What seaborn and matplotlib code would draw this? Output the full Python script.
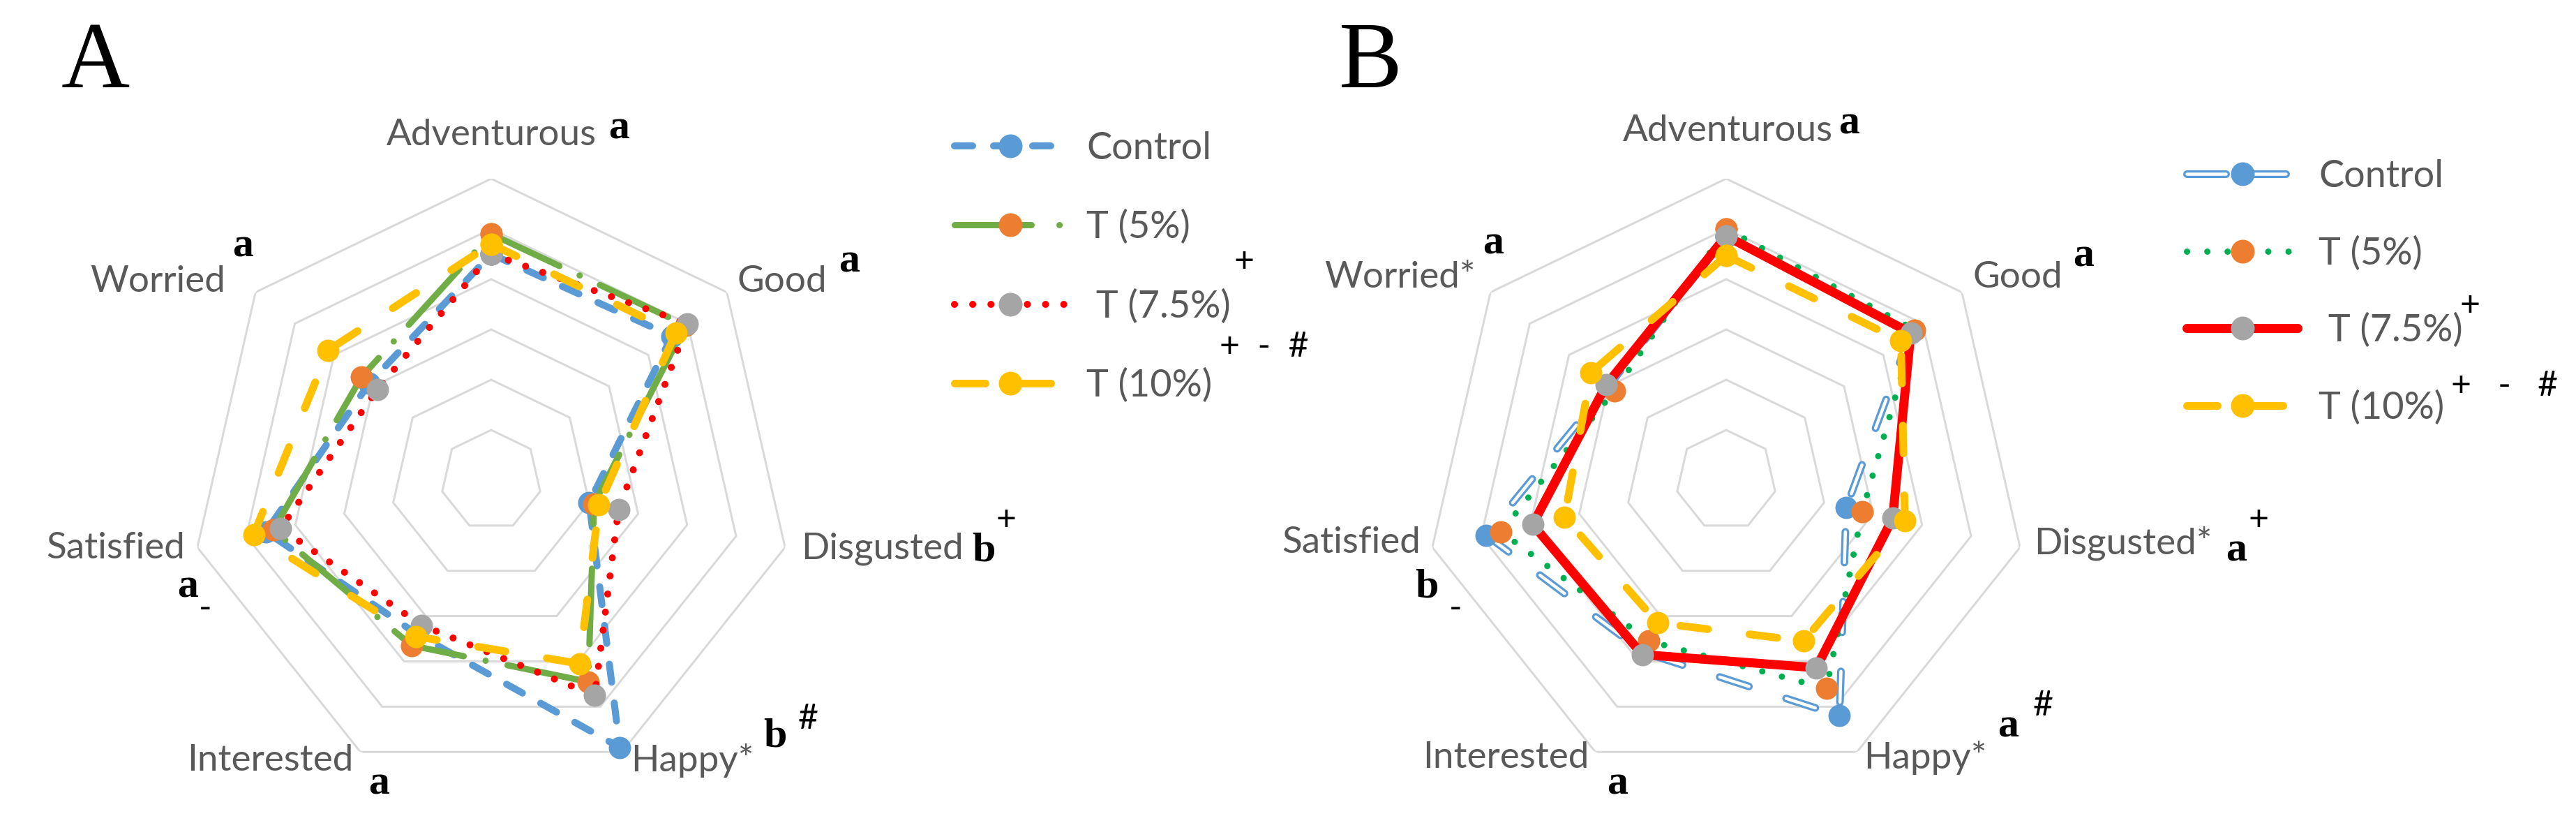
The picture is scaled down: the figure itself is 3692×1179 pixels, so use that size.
import numpy as np
import pandas as pd
import matplotlib.pyplot as plt
import seaborn as sns
from matplotlib.lines import Line2D
from matplotlib.legend_handler import HandlerTuple

# ----------------------
# Data (share of consumers)
# ----------------------
categories = ["Adventurous", "Good", "Disgusted", "Happy", "Interested", "Satisfied", "Worried"]
series_names = ["Control", "T (5%)", " T (7.5%)", "T (10%)"]

# Panel A
control_a = [45, 46, 20, 59, 34, 46, 31]
t5_a = [49, 49.5, 21, 44.5, 36.5, 44.5, 33]
t75_a = [45, 50, 26, 47.5, 32, 43, 29]
t10_a = [47, 47, 22, 40.5, 34.5, 48.5, 41.5]

# Panel B
control_b = [48.5, 47, 24.5, 52, 38, 49, 30]
t5_b = [50, 48, 27.8, 46, 35.5, 46, 28.5]
t75_b = [48.6, 47, 34, 41.4, 38.5, 39.5, 30.5]
t10_b = [44.7, 44.5, 36.5, 35.5, 31.5, 33, 34.4]

RMAX = 60
grid_levels = [10, 20, 30, 40, 50, 60]

# ----------------------
# Figure setup (dpi 72 -> 1pt == 1px)
# ----------------------
W, H, DPI = 3692, 1179, 72
sns.set_theme(style="white")
plt.rcParams["font.family"] = ["Lato", "DejaVu Sans"]

fig = plt.figure(figsize=(W / DPI, H / DPI), dpi=DPI)
fig.patch.set_facecolor("white")


def fx(px):
    return px / W


def fy(py):
    return 1 - py / H


theta = np.linspace(0, 2 * np.pi, len(categories), endpoint=False)
theta_closed = np.append(theta, 2 * np.pi)
R_PX = 432

BLUE = "#5B9BD5"
ORANGE = "#ED7D31"
GRAY = "#A5A5A5"
YELLOW = "#FFC000"
GREEN_A = "#70AD47"
GREEN_B = "#00B050"
RED = "#FF0000"
LABEL_GRAY = "#595959"
MS = 32


def dash_px(lw, *pattern_px):
    # dash pattern given in pixels -> linewidth units (dashes scale with lw)
    return (0, tuple(p / lw for p in pattern_px))


def radar_axes(cx, cy):
    ax = fig.add_axes([fx(cx - R_PX), fy(cy + R_PX), 2 * R_PX / W, 2 * R_PX / H],
                      projection="polar")
    ax.set_theta_zero_location("N")
    ax.set_theta_direction(-1)
    ax.grid(False)
    ax.spines["polar"].set_visible(False)
    ax.patch.set_alpha(0)
    for level in grid_levels:
        ax.plot(theta_closed, [level] * len(theta_closed), color="#D9D9D9", lw=3, zorder=1)
    return ax


def draw(ax, values, color, lw, ls, mcolor=None, z=3):
    df = pd.DataFrame({"theta": theta_closed, "score": list(values) + [values[0]]})
    kw = dict(color=color, lw=lw, linestyle=ls, dash_capstyle="round", solid_capstyle="round",
              solid_joinstyle="round", clip_on=False, zorder=z)
    if mcolor is not None:
        kw.update(marker="o", markersize=MS, markerfacecolor=mcolor,
                  markeredgecolor=mcolor, markeredgewidth=0)
    sns.lineplot(data=df, x="theta", y="score", ax=ax, sort=False, estimator=None, **kw)


def finish(ax):
    ax.set_ylim(0, RMAX)
    ax.set_xticks([])
    ax.set_yticks([])
    ax.set_xlabel("")
    ax.set_ylabel("")


# line widths / styles (pixels)
LW_CTRL_A, LW_T5_A, LW_T75_A, LW_T10 = 10, 9, 10, 11
LW_OUT, LW_IN = 11, 4.5
ls_ctrl_a = dash_px(LW_CTRL_A, 26, 30)
ls_t5_a = dash_px(LW_T5_A, 108, 32, 0.1, 32)
ls_t75_a = dash_px(LW_T75_A, 0.1, 26)
ls_t10 = dash_px(LW_T10, 40, 60)
ls_ctrl_b_out = dash_px(LW_OUT, 44, 56)
ls_ctrl_b_in = dash_px(LW_IN, 44, 56)
ls_t5_b = dash_px(9, 0.1, 29)

# ----------------------
# Panel A
# ----------------------
ax_a = radar_axes(704, 688)
draw(ax_a, control_a, BLUE, LW_CTRL_A, ls_ctrl_a, BLUE)
draw(ax_a, t5_a, GREEN_A, LW_T5_A, ls_t5_a, ORANGE, z=4)
draw(ax_a, t75_a, RED, LW_T75_A, ls_t75_a, GRAY, z=5)
draw(ax_a, t10_a, YELLOW, LW_T10, ls_t10, YELLOW, z=6)
finish(ax_a)

# ----------------------
# Panel B
# ----------------------
ax_b = radar_axes(2474, 688)
draw(ax_b, control_b, BLUE, LW_OUT, ls_ctrl_b_out, None)
draw(ax_b, control_b, "white", LW_IN, ls_ctrl_b_in, None, z=3.1)
draw(ax_b, control_b, BLUE, 0, "None", BLUE, z=3.2)
draw(ax_b, t5_b, GREEN_B, 9, ls_t5_b, ORANGE, z=4)
draw(ax_b, t75_b, RED, 13, "-", GRAY, z=5)
draw(ax_b, t10_b, YELLOW, LW_T10, ls_t10, YELLOW, z=6)
finish(ax_b)

# ----------------------
# Category labels and significance letters
# ----------------------
LFS = 53
SERIF = ["Liberation Serif", "DejaVu Serif"]


def label(x, y, s, ha="center"):
    fig.text(fx(x), fy(y), s, ha=ha, va="center", fontsize=LFS, color=LABEL_GRAY)


def letter(x, y, s):
    fig.text(fx(x), fy(y), s, ha="center", va="center", fontsize=60, color="black",
             family=SERIF, fontweight="bold")


def sign(x, y, s, size=50):
    fig.text(fx(x), fy(y), s, ha="center", va="center", fontsize=size, color="black")


# panel A
label(704, 194, "Adventurous")
label(1121, 404, "Good")
label(1148, 786, "Disgusted", ha="left")
label(904, 1090, "Happy*", ha="left")
label(506, 1090, "Interested", ha="right")
label(265, 786, "Satisfied", ha="right")
label(323, 404, "Worried", ha="right")
letter(887, 184, "a")
letter(1217, 376, "a")
letter(1410, 790, "b")
sign(1442, 745, "+")
letter(1111, 1056, "b")
sign(1158, 1030, "#")
letter(543, 1124, "a")
letter(269, 842, "a")
sign(294, 872, "-")
letter(348, 353, "a")

# panel B
label(2476, 188, "Adventurous")
label(2892, 398, "Good")
label(2915, 778, "Disgusted*", ha="left")
label(2671, 1086, "Happy*", ha="left")
label(2277, 1086, "Interested", ha="right")
label(2036, 778, "Satisfied", ha="right")
label(2115, 398, "Worried*", ha="right")
letter(2650, 177, "a")
letter(2986, 368, "a")
letter(3205, 790, "a")
sign(3237, 745, "+")
letter(2878, 1041, "a")
sign(2928, 1011, "#")
letter(2318, 1124, "a")
letter(2045, 842, "b")
sign(2086, 872, "-")
letter(2140, 350, "a")

# panel letters
fig.text(fx(88), fy(125), "A", fontsize=136, family=SERIF, color="black", va="baseline")
fig.text(fx(1918), fy(125), "B", fontsize=136, family=SERIF, color="black", va="baseline")

# ----------------------
# Legends
# ----------------------
LMS = 34


def proxy(color, lw, ls, mcolor):
    return Line2D([], [], color=color, lw=lw, linestyle=ls, dash_capstyle="round",
                  solid_capstyle="round", marker="o", markersize=LMS,
                  markerfacecolor=mcolor, markeredgecolor=mcolor, markeredgewidth=0)


handles_a = [
    proxy(BLUE, LW_CTRL_A, dash_px(LW_CTRL_A, 26, 30), BLUE),
    proxy(GREEN_A, LW_T5_A, dash_px(LW_T5_A, 110, 40, 0.1, 40), ORANGE),
    proxy(RED, LW_T75_A, ls_t75_a, GRAY),
    proxy(YELLOW, LW_T10, dash_px(LW_T10, 44, 50), YELLOW),
]
ctrl_b = (
    Line2D([], [], color=BLUE, lw=LW_OUT, linestyle=dash_px(LW_OUT, 56, 30),
           dash_capstyle="round"),
    Line2D([], [], color="white", lw=LW_IN, linestyle=dash_px(LW_IN, 56, 30),
           dash_capstyle="round"),
    Line2D([], [], color=BLUE, lw=0, linestyle="None", marker="o", markersize=LMS,
           markerfacecolor=BLUE, markeredgecolor=BLUE, markeredgewidth=0),
)
handles_b = [
    ctrl_b,
    proxy(GREEN_B, 9, ls_t5_b, ORANGE),
    proxy(RED, 13, "-", GRAY),
    proxy(YELLOW, LW_T10, dash_px(LW_T10, 44, 50), YELLOW),
]

leg_kw = dict(loc="upper left", frameon=False, fontsize=54, labelcolor=LABEL_GRAY,
              handlelength=2.95, handletextpad=0.55, borderpad=0,
              borderaxespad=0, numpoints=1,
              handler_map={tuple: HandlerTuple(ndivide=1, pad=0)})
fig.legend(handles_a, series_names, bbox_to_anchor=(fx(1368), fy(188)), labelspacing=1.17,
           **leg_kw)
fig.legend(handles_b, series_names, bbox_to_anchor=(fx(3134), fy(228)), labelspacing=1.12,
           **leg_kw)

sign(1783, 375, "+")
sign(1812, 497, "+  -  #")
sign(3540, 438, "+")
sign(3590, 553, "+   -   #")

fig.savefig("out.png", dpi=DPI, facecolor="white")
